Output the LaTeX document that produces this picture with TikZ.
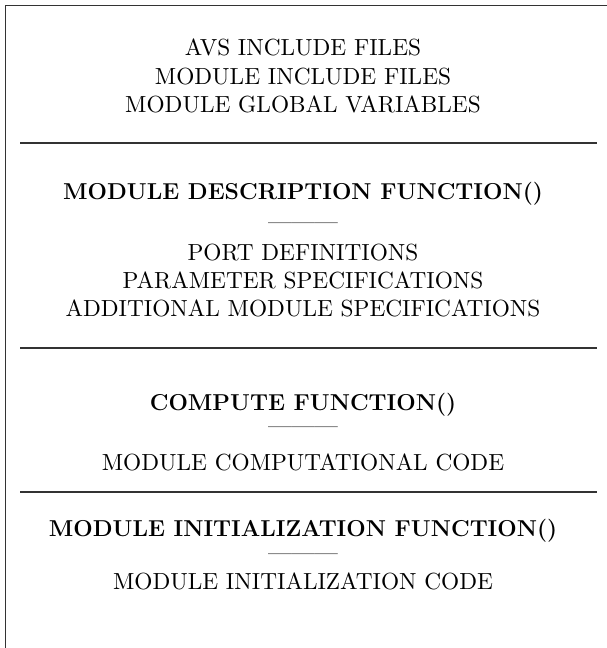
\documentclass[tikz,border=0pt]{standalone}
\usepackage{fontspec}
\setmainfont{lmroman10-regular.otf}[BoldFont=lmroman12-bold.otf]
\begin{document}
\begin{tikzpicture}[x=1pt,y=1pt,
  txt/.style={inner sep=0pt, anchor=base, font=\fontsize{23.3}{28}\selectfont},
  ttl/.style={txt, font=\fontsize{23}{28}\selectfont\bfseries},
  frame/.style={line width=1.6pt, draw=black!80},
  sep/.style={line width=1.3pt, draw=black!80}]
\useasboundingbox (0,0) rectangle (607,-648);
% frame
\coordinate (tl) at (5.5,-5.5);
\coordinate (tr) at (607,-5.5);
\coordinate (bl) at (5.5,-648);
\draw[frame] (bl) -- (tl) -- (tr);
% separators
\coordinate (s1l) at (20,-143); \coordinate (s1r) at (597,-143);
\coordinate (s2l) at (20,-348); \coordinate (s2r) at (597,-348);
\coordinate (s3l) at (20,-492); \coordinate (s3r) at (597,-492);
\draw[sep] (s1l) -- (s1r);
\draw[sep] (s2l) -- (s2r);
\draw[sep] (s3l) -- (s3r);
% section 1
\node[txt] (a1) at (303,-55) {AVS INCLUDE FILES};
\node[txt] (a2) at (303,-84) {MODULE INCLUDE FILES};
\node[txt] (a3) at (303,-112) {MODULE GLOBAL VARIABLES};
% section 2
\node[ttl] (b0) at (303,-199) {MODULE DESCRIPTION FUNCTION()};
\node[txt] (bd) at (303,-229) {---{}---{}---};
\node[txt] (b1) at (303,-260) {PORT DEFINITIONS};
\node[txt] (b2) at (303,-288) {PARAMETER SPECIFICATIONS};
\node[txt] (b3) at (303,-316) {ADDITIONAL MODULE SPECIFICATIONS};
% section 3
\node[ttl] (c0) at (303,-410) {COMPUTE FUNCTION()};
\node[txt] (cd) at (303,-433) {---{}---{}---};
\node[txt] (c1) at (303,-470) {MODULE COMPUTATIONAL CODE};
% section 4
\node[ttl] (d0) at (303,-536) {MODULE INITIALIZATION FUNCTION()};
\node[txt] (dd) at (303,-560) {---{}---{}---};
\node[txt] (d1) at (303,-589) {MODULE INITIALIZATION CODE};
\end{tikzpicture}
\end{document}
